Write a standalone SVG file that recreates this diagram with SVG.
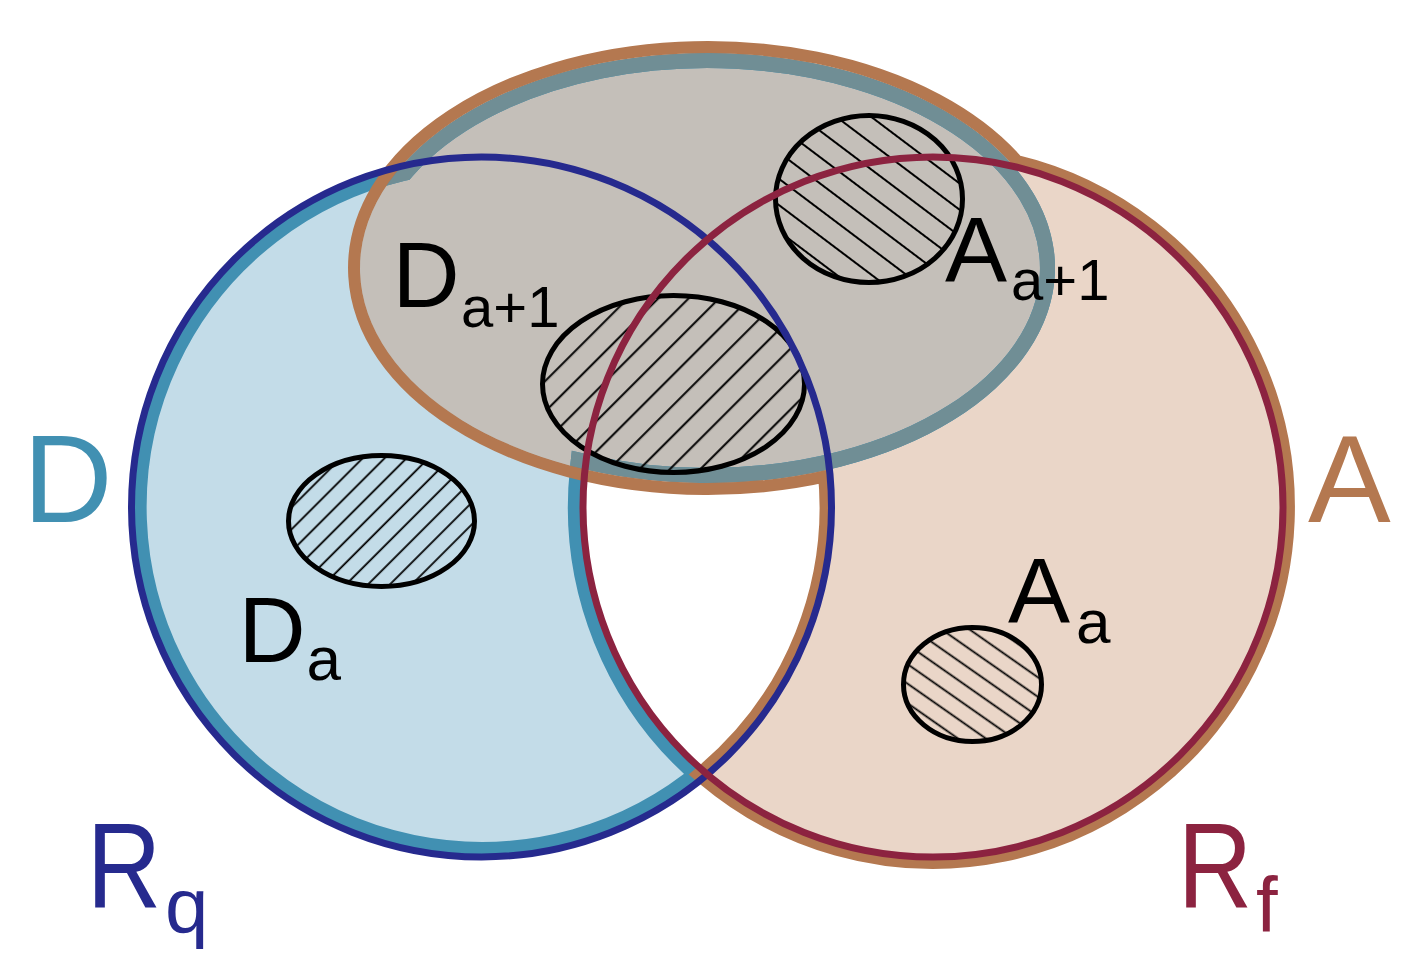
<svg xmlns="http://www.w3.org/2000/svg" width="1427" height="967" viewBox="0 0 1427 967">
<defs>
<style>
.lbl{font-family:"Liberation Sans",Arial,sans-serif;}
.blk{fill:#000;}
.hat{stroke:#000;stroke-width:5;}
.thin{fill:none;stroke-width:7;}
</style>
<clipPath id="clipD"><path d="M401.4 166.2 A347.5 215 0 1 1 584.9 469.2 A350 350 0 0 0 707.25 774.46 A350 350 0 1 1 401.4 166.2 Z"/></clipPath>
<clipPath id="clipE"><ellipse cx="707.5" cy="268" rx="347.5" ry="215"/></clipPath>
<clipPath id="clipNotA"><path clip-rule="evenodd" d="M-10 -10 H1437 V977 H-10 Z M1013.8 166.4 A347.5 215 0 1 0 829.5 469.3 A350 350 0 0 1 707.25 774.46 A350 350 0 1 0 1013.8 166.4 Z"/></clipPath>
<path id="outD" d="M401.4 166.2 A347.5 215 0 1 1 584.9 469.2 A350 350 0 0 0 707.25 774.46 A350 350 0 1 1 401.4 166.2 Z"/>
<path id="outA" d="M1013.8 166.4 A347.5 215 0 1 0 829.5 469.3 A350 350 0 0 1 707.25 774.46 A350 350 0 1 0 1013.8 166.4 Z"/>
<pattern id="hDa1" patternUnits="userSpaceOnUse" width="20" height="21.5" patternTransform="rotate(-45)"><line x1="-1" y1="10" x2="21" y2="10" stroke="#000" stroke-width="2"/></pattern>
<pattern id="hAa1" patternUnits="userSpaceOnUse" width="20" height="21" patternTransform="rotate(37)"><line x1="-1" y1="10" x2="21" y2="10" stroke="#000" stroke-width="2"/></pattern>
<pattern id="hDa" patternUnits="userSpaceOnUse" width="20" height="15.5" patternTransform="rotate(-45)"><line x1="-1" y1="7" x2="21" y2="7" stroke="#000" stroke-width="1.8"/></pattern>
<pattern id="hAa" patternUnits="userSpaceOnUse" width="20" height="16" patternTransform="rotate(35)"><line x1="-1" y1="7.5" x2="21" y2="7.5" stroke="#000" stroke-width="1.8"/></pattern>
</defs>

<g id="fills">
<circle cx="481.5" cy="507" r="350" fill="#c3dce8"/>
<circle cx="933" cy="507" r="350" fill="#ead6c8"/>
<path d="M707.25 239.54 A350 350 0 0 0 707.25 774.46 A350 350 0 0 0 707.25 239.54 Z" fill="#ffffff"/>
<ellipse id="ellipse-E" cx="707.5" cy="268" rx="347.5" ry="215" fill="#c4bfb9"/>
</g>

<g id="region-D-outline">
<g clip-path="url(#clipD)"><use href="#outD" fill="none" stroke="#4190b2" stroke-width="30"/></g>
<g clip-path="url(#clipE)"><use href="#outD" fill="none" stroke="#708e95" stroke-width="30"/></g>
</g>
<g id="region-A-outline" clip-path="url(#clipNotA)">
<use href="#outA" fill="none" stroke="#b47850" stroke-width="24"/>
</g>

<g id="Da1-set"><ellipse cx="673.5" cy="384" rx="131" ry="88.5" fill="url(#hDa1)" class="hat"/></g>
<g id="Aa1-set"><ellipse cx="869" cy="199" rx="93.5" ry="83.5" fill="url(#hAa1)" class="hat"/></g>
<g id="Da-set"><ellipse cx="381.5" cy="521" rx="93" ry="65.5" fill="url(#hDa)" class="hat"/></g>
<g id="Aa-set"><ellipse cx="972.5" cy="684.5" rx="69" ry="57" fill="url(#hAa)" class="hat"/></g>

<g id="Rq"><circle cx="481.5" cy="507" r="350" class="thin" stroke="#262a8e"/></g>
<g id="Rf"><circle cx="933" cy="507" r="350" class="thin" stroke="#8c2340"/></g>

<g id="labels">
<text class="lbl" x="23" y="522" font-size="124" fill="#4190b2">D</text>
<text class="lbl" x="1308" y="522" font-size="124" fill="#b47850">A</text>
<g fill="#262a8e">
<text class="lbl" transform="translate(95,908) scale(0.86,1)" x="-9.6" y="0" font-size="120">R</text>
<text class="lbl" x="165" y="933" font-size="78">q</text>
</g>
<g fill="#8c2340">
<text class="lbl" transform="translate(1186,908) scale(0.86,1)" x="-9.6" y="0" font-size="120">R</text>
<text class="lbl" x="1256" y="932" font-size="78">f</text>
</g>
<text class="lbl blk"><tspan x="392.5" y="307" font-size="93">D</tspan><tspan x="461" y="327" font-size="58">a+1</tspan></text>
<text class="lbl blk"><tspan x="945" y="282" font-size="93">A</tspan><tspan x="1011" y="300" font-size="58">a+1</tspan></text>
<text class="lbl blk"><tspan x="238.5" y="662" font-size="93">D</tspan><tspan x="306.5" y="680" font-size="62">a</tspan></text>
<text class="lbl blk"><tspan x="1008" y="623" font-size="93">A</tspan><tspan x="1076" y="643" font-size="62">a</tspan></text>
</g>
</svg>
